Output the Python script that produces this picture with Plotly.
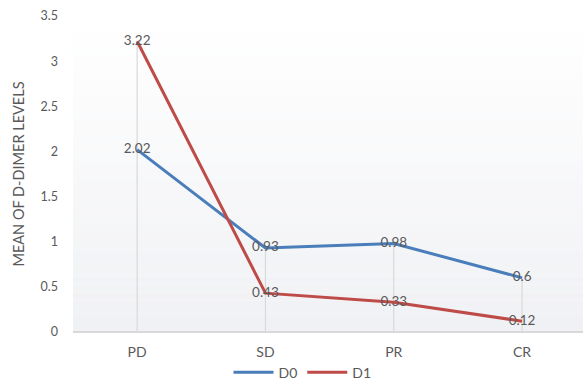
import plotly.graph_objects as go

# Response categories and mean D-dimer levels
categories = ["PD", "SD", "PR", "CR"]
d0_values = [2.02, 0.93, 0.98, 0.6]
d1_values = [3.22, 0.43, 0.33, 0.12]
y_ticks = [0, 0.5, 1, 1.5, 2, 2.5, 3, 3.5]

FONT = "Lato, 'Open Sans', sans-serif"
TEXT_GREY = "#595959"

fig = go.Figure()

# Soft vertical gradient behind the plotting area
shapes = []
steps = 40
top, bottom = (255, 255, 255), (240, 241, 244)
for i in range(steps):
    t = i / (steps - 1)
    c = tuple(round(top[k] + (bottom[k] - top[k]) * t) for k in range(3))
    shapes.append(dict(
        type="rect", xref="paper", yref="paper",
        x0=0, x1=1, y0=1 - (i + 1) / steps, y1=1 - i / steps,
        fillcolor=f"rgb{c}", line=dict(width=0), layer="below",
    ))

# Drop lines from each category down to the axis
for i, cat in enumerate(categories):
    shapes.append(dict(
        type="line", xref="x", yref="y",
        x0=i, x1=i, y0=0, y1=max(d0_values[i], d1_values[i]),
        line=dict(color="#d9d9d9", width=1.2), layer="below",
    ))

x_idx = list(range(len(categories)))

fig.add_trace(go.Scatter(
    x=x_idx, y=d0_values, name="D0", mode="lines+text",
    text=[str(v) for v in d0_values], textposition="middle center",
    textfont=dict(family=FONT, size=13.5, color=TEXT_GREY),
    line=dict(color="#4a7ebb", width=3),
))
fig.add_trace(go.Scatter(
    x=x_idx, y=d1_values, name="D1", mode="lines+text",
    text=[str(v) for v in d1_values], textposition="middle center",
    textfont=dict(family=FONT, size=13.5, color=TEXT_GREY),
    line=dict(color="#be4b48", width=3),
))

fig.update_layout(
    width=583, height=385,
    margin=dict(l=73, r=0, t=16, b=53),
    paper_bgcolor="white", plot_bgcolor="rgba(0,0,0,0)",
    font=dict(family=FONT, size=12, color=TEXT_GREY),
    shapes=shapes,
    showlegend=True,
    legend=dict(
        orientation="h", x=0.45, xanchor="center",
        yref="container", y=0.032, yanchor="middle",
        font=dict(family=FONT, size=14, color=TEXT_GREY),
        bgcolor="rgba(0,0,0,0)", itemwidth=40,
    ),
    xaxis=dict(
        tickmode="array", tickvals=x_idx, ticktext=categories,
        range=[-0.5, 3.475], showgrid=False, zeroline=False,
        showline=False, ticks="", ticklabelstandoff=10, automargin=False,
        tickfont=dict(size=14, color=TEXT_GREY),
    ),
    yaxis=dict(
        range=[0, 3.5], tickvals=y_ticks,
        ticktext=[f"{v:g}" for v in y_ticks],
        showgrid=False, zeroline=True, zerolinecolor="#d9d9d9", zerolinewidth=1.5,
        showline=False, ticks="", ticklabelstandoff=14,
        tickfont=dict(size=12.5, color=TEXT_GREY),
        title=dict(text="MEAN OF D-DIMER LEVELS", font=dict(size=14.5, color=TEXT_GREY), standoff=12),
    ),
)

fig.write_html("out.html")
